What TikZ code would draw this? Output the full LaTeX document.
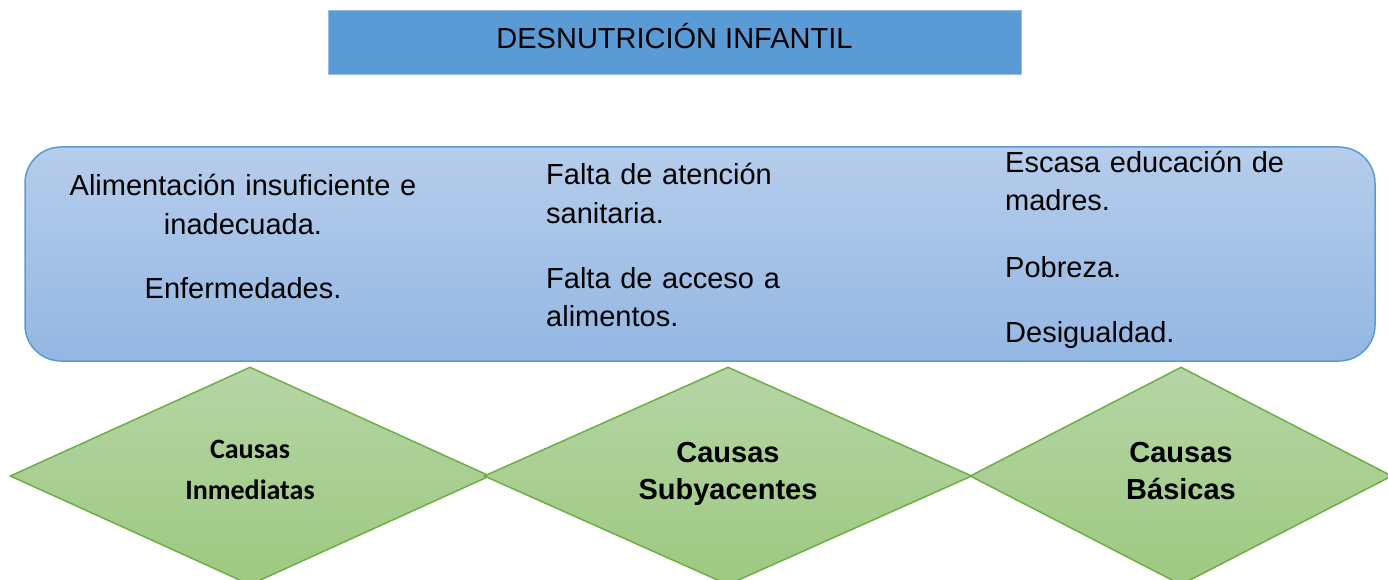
\documentclass[tikz,border=0pt]{standalone}
\usepackage{xcolor}
\usepackage{fontspec}
\setmainfont{Liberation Sans}
\newfontfamily\calibrifont{Carlito}
\usetikzlibrary{shapes.geometric}

\definecolor{titleblue}{RGB}{91,155,213}
\definecolor{titleedge}{RGB}{150,190,228}
\definecolor{boxtop}{RGB}{182,205,235}
\definecolor{boxbottom}{RGB}{147,183,227}
\definecolor{boxedge}{RGB}{91,155,213}
\definecolor{diatop}{RGB}{181,213,165}
\definecolor{diabottom}{RGB}{157,201,128}
\definecolor{diaedge}{RGB}{112,173,71}

\tikzset{
  titlebox/.style={draw=titleedge, line width=1pt, fill=titleblue, inner sep=0pt,
    minimum width=693pt, minimum height=64pt, font=\fontsize{29}{34}\selectfont,
    text height=21pt, text depth=9pt},
  causebox/.style={draw=boxedge, line width=1.5pt, rounded corners=36pt,
    top color=boxtop, bottom color=boxbottom, minimum width=1350pt, minimum height=214pt},
  causa/.style={diamond, aspect=2.2, draw=diaedge, line width=1.5pt, top color=diatop, bottom color=diabottom,
    inner sep=0pt, align=center, minimum height=218pt,
    execute at begin node=\strut, execute at end node=\strut},
  causatxt/.style={font=\fontsize{29}{37}\selectfont\bfseries},
  item/.style={inner sep=0pt, font=\fontsize{29}{38.5}\selectfont, anchor=base west,
    text width=330pt, align=left},
}

\begin{document}
\begin{tikzpicture}[x=1pt,y=-1pt]
  \useasboundingbox (0,0) rectangle (1388,580);
  \clip (0,0) rectangle (1388,580);

  \node[titlebox] (titulo) at (674.5,43) {DESNUTRICIÓN INFANTIL};
  \node[causebox] (marco) at (700,254) {};

  % causas inmediatas
  \node[item, anchor=base, text width=420pt, align=center] (alimentacion) at (243,196)
    {Alimentación insuficiente e\\inadecuada.};
  \node[item, anchor=base, text width=420pt, align=center] (enfermedades) at (243,298)
    {Enfermedades.};
  % causas subyacentes
  \node[item] (atencion) at (546,185) {Falta de atención\\sanitaria.};
  \node[item] (acceso) at (546,288) {Falta de acceso a\\alimentos.};
  % causas basicas
  \node[item] (educacion) at (1005,172) {Escasa educación de\\madres.};
  \node[item] (pobreza) at (1005,277) {Pobreza.};
  \node[item] (desigualdad) at (1005,342) {Desigualdad.};

  \node[causa, minimum width=480pt, font=\calibrifont\fontsize{28}{41}\selectfont\bfseries]
    (inmediatas) at (250,476) {Causas\\Inmediatas};
  \node[causa, causatxt, minimum width=488pt] (subyacentes) at (728,476) {Causas\\Subyacentes};
  \node[causa, causatxt, minimum width=422pt] (basicas) at (1181,476) {Causas\\Básicas};
\end{tikzpicture}
\end{document}
